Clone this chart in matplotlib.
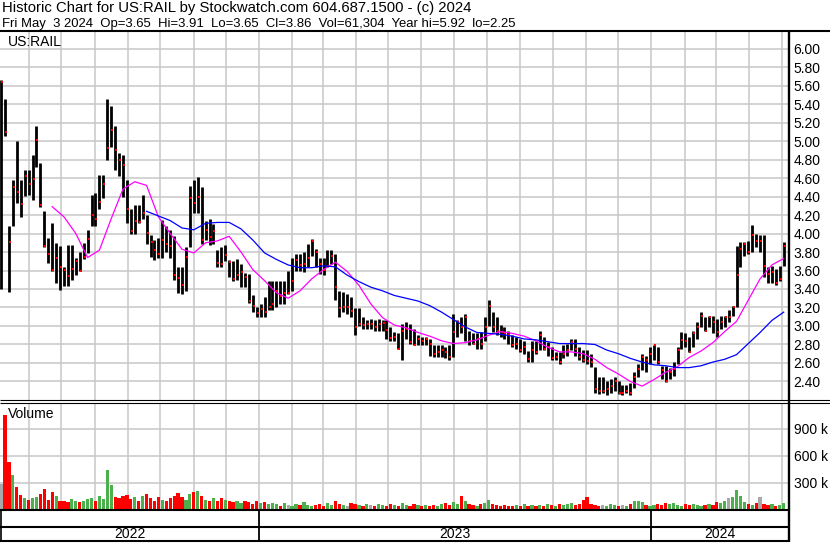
import numpy as np
import pandas as pd
import matplotlib
matplotlib.use("Agg")
import matplotlib.pyplot as plt
import matplotlib.dates as mdates
from matplotlib.transforms import offset_copy

plt.rcParams['font.family'] = ['Liberation Sans', 'DejaVu Sans']

W, H = 830, 543

# price bars (about every 3-4 trading days)
highs = [5.66, 5.45, 4.08, 4.58, 5.00, 4.58, 4.69, 4.69, 4.85, 5.16,
         4.76, 4.24, 3.95, 4.11, 3.90, 3.86, 3.64, 3.88, 3.88, 3.73,
         3.80, 3.90, 4.04, 4.42, 4.44, 4.63, 4.63, 5.45, 5.38, 5.16,
         4.87, 4.85, 4.58, 4.26, 4.31, 4.31, 4.42, 4.20, 3.98, 3.93,
         3.95, 4.15, 4.08, 4.04, 3.97, 3.64, 3.64, 3.85, 4.51, 4.58,
         4.61, 4.50, 4.13, 4.16, 4.10, 3.82, 3.85, 3.88, 3.71, 3.70,
         3.72, 3.67, 3.57, 3.56, 3.33, 3.21, 3.24, 3.31, 3.49, 3.49,
         3.49, 3.49, 3.49, 3.60, 3.74, 3.78, 3.78, 3.80, 3.89, 3.94,
         3.83, 3.74, 3.73, 3.82, 3.82, 3.78, 3.38, 3.37, 3.35, 3.31,
         3.19, 3.19, 3.10, 3.06, 3.08, 3.06, 3.08, 3.06, 3.06, 2.99,
         2.93, 2.92, 3.02, 3.04, 3.02, 2.97, 2.90, 2.88, 2.88, 2.86,
         2.79, 2.79, 2.79, 2.77, 2.79, 3.13, 3.06, 3.10, 3.13, 2.95,
         2.92, 2.92, 2.93, 3.10, 3.28, 3.15, 3.10, 3.01, 2.99, 2.95,
         2.90, 2.88, 2.86, 2.84, 2.73, 2.84, 2.84, 2.95, 2.88, 2.83,
         2.77, 2.72, 2.72, 2.79, 2.81, 2.86, 2.86, 2.77, 2.74, 2.74,
         2.70, 2.56, 2.45, 2.45, 2.41, 2.43, 2.45, 2.41, 2.36, 2.36,
         2.38, 2.50, 2.59, 2.70, 2.68, 2.77, 2.79, 2.77, 2.57, 2.57,
         2.55, 2.61, 2.77, 2.93, 2.92, 2.88, 2.95, 3.04, 3.15, 3.10,
         3.11, 3.11, 3.08, 3.11, 3.11, 3.17, 3.22, 3.87, 3.91, 3.91,
         3.92, 4.09, 4.00, 3.98, 3.98, 3.64, 3.65, 3.62, 3.65, 3.91]
lows = [3.40, 5.05, 3.37, 4.08, 4.33, 4.18, 4.41, 4.42, 4.36, 4.72,
        4.29, 3.85, 3.68, 3.59, 3.46, 3.39, 3.43, 3.43, 3.50, 3.55,
        3.59, 3.72, 3.79, 4.08, 4.08, 4.26, 4.38, 4.80, 4.94, 4.69,
        4.62, 4.40, 4.11, 4.00, 4.00, 4.11, 4.16, 3.89, 3.75, 3.71,
        3.73, 3.73, 3.80, 3.73, 3.50, 3.36, 3.35, 3.38, 3.85, 4.22,
        4.22, 3.89, 3.93, 3.88, 3.89, 3.64, 3.64, 3.70, 3.53, 3.49,
        3.50, 3.42, 3.42, 3.25, 3.15, 3.10, 3.10, 3.10, 3.17, 3.17,
        3.20, 3.24, 3.24, 3.35, 3.38, 3.60, 3.60, 3.58, 3.64, 3.76,
        3.64, 3.56, 3.55, 3.64, 3.67, 3.28, 3.10, 3.15, 3.13, 3.10,
        2.90, 3.00, 2.97, 2.97, 2.97, 2.95, 2.95, 2.95, 2.86, 2.84,
        2.84, 2.75, 2.63, 2.86, 2.81, 2.79, 2.79, 2.79, 2.79, 2.68,
        2.66, 2.66, 2.66, 2.65, 2.63, 2.66, 2.88, 2.92, 2.84, 2.79,
        2.81, 2.75, 2.75, 2.84, 3.00, 2.93, 2.90, 2.88, 2.86, 2.81,
        2.77, 2.75, 2.72, 2.70, 2.61, 2.61, 2.70, 2.74, 2.74, 2.68,
        2.63, 2.63, 2.59, 2.65, 2.68, 2.74, 2.68, 2.63, 2.61, 2.59,
        2.56, 2.27, 2.26, 2.28, 2.25, 2.27, 2.30, 2.26, 2.25, 2.27,
        2.25, 2.33, 2.45, 2.52, 2.50, 2.59, 2.63, 2.59, 2.43, 2.39,
        2.43, 2.46, 2.59, 2.75, 2.77, 2.72, 2.77, 2.86, 2.99, 2.95,
        2.99, 2.92, 2.88, 2.97, 2.99, 3.04, 3.11, 3.20, 3.64, 3.76,
        3.78, 3.80, 3.85, 3.80, 3.53, 3.47, 3.47, 3.44, 3.49, 3.65]
closes = [5.64, 5.10, 3.91, 4.50, 4.45, 4.32, 4.62, 4.54, 4.59, 5.01,
          4.31, 3.87, 3.78, 3.61, 3.74, 3.64, 3.61, 3.54, 3.62, 3.70,
          3.59, 3.75, 3.94, 4.20, 4.16, 4.34, 4.54, 4.93, 5.12, 4.90,
          4.80, 4.74, 4.27, 4.03, 4.14, 4.12, 4.22, 4.01, 3.91, 3.82,
          3.78, 3.93, 3.89, 3.86, 3.55, 3.52, 3.44, 3.75, 4.38, 4.33,
          4.40, 3.93, 4.04, 3.96, 4.03, 3.68, 3.67, 3.77, 3.69, 3.51,
          3.55, 3.58, 3.53, 3.27, 3.22, 3.14, 3.18, 3.15, 3.20, 3.24,
          3.38, 3.32, 3.36, 3.36, 3.49, 3.71, 3.66, 3.67, 3.73, 3.92,
          3.80, 3.67, 3.61, 3.65, 3.76, 3.42, 3.19, 3.20, 3.20, 3.16,
          2.99, 3.02, 3.01, 3.02, 3.02, 2.99, 3.02, 3.03, 2.96, 2.87,
          2.88, 2.75, 2.95, 2.97, 2.83, 2.79, 2.86, 2.84, 2.86, 2.81,
          2.70, 2.72, 2.74, 2.72, 2.67, 2.93, 3.04, 2.99, 3.10, 2.84,
          2.81, 2.86, 2.80, 2.99, 3.22, 2.99, 2.95, 2.93, 2.92, 2.90,
          2.79, 2.81, 2.74, 2.77, 2.64, 2.74, 2.72, 2.90, 2.75, 2.77,
          2.65, 2.66, 2.61, 2.70, 2.74, 2.83, 2.75, 2.66, 2.63, 2.62,
          2.61, 2.32, 2.30, 2.30, 2.32, 2.35, 2.41, 2.27, 2.27, 2.30,
          2.28, 2.45, 2.54, 2.66, 2.63, 2.70, 2.79, 2.61, 2.52, 2.40,
          2.50, 2.54, 2.74, 2.85, 2.84, 2.72, 2.92, 2.99, 3.11, 2.95,
          3.10, 3.04, 2.93, 3.04, 3.10, 3.10, 3.20, 3.55, 3.83, 3.89,
          3.80, 3.98, 3.92, 3.92, 3.65, 3.56, 3.58, 3.47, 3.51, 3.86]
# volume in thousands of shares
volumes = [290, 1050, 530, 380, 250, 160, 130, 110, 130, 140,
           170, 230, 110, 190, 150, 90, 100, 80, 120, 90,
           80, 90, 120, 130, 100, 150, 120, 440, 270, 140,
           130, 150, 160, 120, 140, 100, 150, 170, 130, 100,
           140, 110, 90, 130, 150, 180, 140, 110, 170, 200,
           210, 150, 110, 100, 130, 90, 130, 110, 100, 80,
           90, 70, 100, 80, 60, 90, 70, 80, 60, 70,
           60, 40, 70, 50, 40, 60, 50, 80, 50, 40,
           50, 60, 40, 70, 50, 90, 60, 50, 40, 70,
           60, 50, 40, 60, 50, 40, 60, 50, 40, 60,
           50, 40, 70, 50, 40, 60, 50, 40, 50, 40,
           50, 40, 60, 70, 50, 80, 60, 150, 90, 60,
           50, 40, 60, 70, 110, 60, 50, 40, 50, 40,
           40, 50, 40, 60, 40, 50, 40, 50, 40, 60,
           50, 40, 60, 50, 60, 70, 50, 60, 110, 145,
           60, 50, 40, 50, 40, 60, 50, 40, 50, 40,
           60, 90, 90, 80, 50, 40, 50, 60, 50, 75,
           60, 75, 50, 40, 60, 50, 60, 50, 40, 50,
           60, 50, 80, 70, 100, 130, 145, 220, 150, 80,
           60, 50, 70, 145, 60, 50, 60, 40, 50, 70]
# moving averages, sampled every third bar up to the last one
ma_fast = [4.29, 4.18, 4.00, 3.74, 3.82, 4.16, 4.48, 4.56, 4.52, 4.18,
           4.00, 3.83, 3.79, 3.90, 3.92, 3.97, 3.80, 3.61, 3.49, 3.36,
           3.30, 3.38, 3.51, 3.61, 3.69, 3.59, 3.44, 3.24, 3.09, 3.01,
           2.98, 2.93, 2.89, 2.84, 2.81, 2.82, 2.85, 2.90, 2.94, 2.92,
           2.89, 2.84, 2.77, 2.72, 2.72, 2.70, 2.64, 2.55, 2.48, 2.40,
           2.35, 2.42, 2.50, 2.56, 2.66, 2.73, 2.82, 2.94, 3.05, 3.28,
           3.51, 3.66, 3.73]
ma_slow = [4.24, 4.19, 4.14, 4.06, 4.04, 4.11, 4.12, 4.12, 4.05, 3.93,
           3.79, 3.72, 3.66, 3.63, 3.63, 3.65, 3.64, 3.55, 3.48, 3.42,
           3.38, 3.33, 3.30, 3.27, 3.22, 3.15, 3.07, 2.99, 2.93, 2.92,
           2.91, 2.89, 2.86, 2.85, 2.83, 2.81, 2.81, 2.81, 2.80, 2.74,
           2.70, 2.65, 2.61, 2.58, 2.57, 2.55, 2.55, 2.57, 2.61, 2.64,
           2.69, 2.81, 2.93, 3.06, 3.15]
price_ticks = [2.4, 2.6, 2.8, 3.0, 3.2, 3.4, 3.6, 3.8, 4.0, 4.2,
               4.4, 4.6, 4.8, 5.0, 5.2, 5.4, 5.6, 5.8, 6.0]
vol_ticks = [300, 600, 900]
years = [2022, 2023, 2024]

title1 = "Historic Chart for US:RAIL by Stockwatch.com 604.687.1500 - (c) 2024"
title2 = ("Fri May  3 2024  Op=3.65  Hi=3.91  Lo=3.65  Cl=3.86  "
          "Vol=61,304  Year hi=5.92  lo=2.25")

dates = pd.date_range('2022-05-06', '2024-05-03', periods=len(closes))
x0, x1 = pd.Timestamp('2022-05-05'), pd.Timestamp('2024-05-07')


def rect(x, y, w, h):
    # pixel box (top-left origin) -> figure fraction
    return [x / W, 1 - (y + h) / H, w / W, h / H]


fig = plt.figure(figsize=(W / 100, H / 100), dpi=100)
ax = fig.add_axes(rect(0, 31, 788, 368.5))
axv = fig.add_axes(rect(0, 403, 788, 106.5))
axd = fig.add_axes(rect(0, 510, 788, 31))

for a in (ax, axv):
    a.set_xlim(x0, x1)
    a.xaxis.set_major_locator(mdates.MonthLocator())
    a.grid(True, color='#c8c8c8', lw=1.1)
    a.set_axisbelow(True)
    a.tick_params(length=0, labelbottom=False, labelleft=False,
                  labelright=True, pad=4, labelsize=10)
    for s in a.spines.values():
        s.set_visible(False)

# price panel
ax.vlines(dates, lows, highs, color='black', lw=2.0)
ax.plot(dates, closes, ls='none', marker='s', ms=1.7, mew=0, color='red',
        transform=offset_copy(ax.transData, fig, x=1, units='dots'))
start = len(dates) - 3 * (len(ma_fast) - 1) - 1
ax.plot(dates[start::3], ma_fast, color='#ff00ff', lw=0.9)
start = len(dates) - 3 * (len(ma_slow) - 1) - 1
ax.plot(dates[start::3], ma_slow, color='#0000ff', lw=0.9)
ax.set_ylim(2.205, 6.19)
ax.set_yticks(price_ticks)
ax.set_yticklabels([f'{t:.2f}' for t in price_ticks])

# volume panel
chg = np.diff(np.array(closes), prepend=np.nan)
vcol = np.where(chg > 0, '#4cb04c', np.where(chg < 0, '#ff0000', '#a8a8a8'))
axv.bar(dates, volumes, width=3.0, color=vcol, lw=0)
axv.set_ylim(0, 1188)
axv.set_yticks(vol_ticks)
axv.set_yticklabels([f'{t} k' for t in vol_ticks])

# year row
axd.set_xlim(x0, x1)
axd.set_ylim(0, 1)
axd.axis('off')
for yr in years:
    a0 = max(pd.Timestamp(f'{yr}-01-01'), x0)
    a1 = min(pd.Timestamp(f'{yr + 1}-01-01'), x1)
    axd.text(a0 + (a1 - a0) / 2, 0.22, str(yr), ha='center', va='center',
             fontsize=10)
    if yr != years[0]:
        axd.axvline(pd.Timestamp(f'{yr}-01-01'), color='black', lw=1.3)

# frame lines and header, in pixel coordinates
fr = fig.add_axes([0, 0, 1, 1])
fr.set_xlim(0, W)
fr.set_ylim(H, 0)
fr.axis('off')
fr.patch.set_alpha(0)
fr.hlines(30.5, 0, W, color='black', lw=1.5)
fr.hlines([400, 402.5], 0, W, color='black', lw=0.8)
fr.hlines([509.8, 527, 541.2], 0, 789, color='black', lw=1.5)
fr.vlines(789, 30, 542, color='black', lw=1.7)
fr.vlines(0.5, 509, 542, color='black', lw=1.2)
fr.text(2, 12, title1, fontsize=10.7, va='baseline')
fr.text(2, 27.5, title2, fontsize=9.45, va='baseline')
fr.text(8, 46, 'US:RAIL', fontsize=10, va='baseline')
fr.text(8, 418, 'Volume', fontsize=10, va='baseline')

fig.savefig('out.png', dpi=100)
